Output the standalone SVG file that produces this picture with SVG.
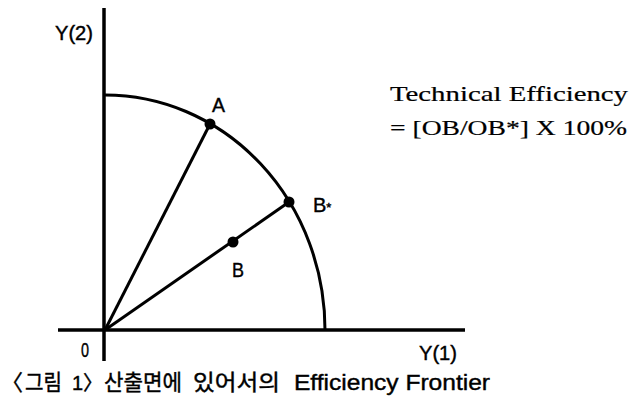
<svg xmlns="http://www.w3.org/2000/svg" width="633" height="399" viewBox="0 0 633 399">
<style>
.ax{stroke:#000;stroke-width:3.5;fill:none}
.ln{stroke:#000;stroke-width:3;fill:none}
.lbl{font-family:"Liberation Sans",Arial,sans-serif;font-size:20px;fill:#000;stroke:#000;stroke-width:0.4}
.ser{font-family:"Liberation Serif","Times New Roman",serif;font-size:21px;fill:#000;stroke:#000;stroke-width:0.2}
.cap{font-family:"Liberation Sans","Noto Sans CJK KR",sans-serif;font-size:22px;fill:#000;stroke:#000;stroke-width:0.4}
</style>
<g id="axes">
<line class="ax" x1="104" y1="8" x2="104" y2="361"/>
<line class="ax" x1="58" y1="330" x2="465" y2="330"/>
</g>
<g id="frontier">
<path class="ln" d="M105,95 A220,235 0 0 1 325,330"/>
</g>
<g id="connectors">
<line class="ln" x1="105" y1="330" x2="210" y2="124"/>
<line class="ln" x1="105" y1="330" x2="289" y2="202"/>
</g>
<g id="nodeO"><text class="lbl" x="81" y="357" font-size="18" textLength="8" lengthAdjust="spacingAndGlyphs">0</text></g>
<g id="nodeA"><circle cx="210" cy="124" r="5.5"/><text class="lbl" x="212" y="112" font-size="19" textLength="13" lengthAdjust="spacingAndGlyphs">A</text></g>
<g id="nodeBstar"><circle cx="289" cy="202" r="5.5"/><text class="lbl" x="313" y="212">B<tspan font-size="13">*</tspan></text></g>
<g id="nodeB"><circle cx="233" cy="242" r="5.5"/><text class="lbl" x="232" y="277" textLength="12" lengthAdjust="spacingAndGlyphs">B</text></g>
<g id="labels">
<text class="lbl" x="55" y="40" font-size="17" textLength="38" lengthAdjust="spacingAndGlyphs">Y(2)</text>
<text class="lbl" x="419" y="360" font-size="17" textLength="38" lengthAdjust="spacingAndGlyphs">Y(1)</text>
<text class="ser" x="390" y="101" textLength="238" lengthAdjust="spacingAndGlyphs">Technical Efficiency</text>
<text class="ser" x="390" y="135" textLength="237" lengthAdjust="spacingAndGlyphs">= [OB/OB*] X 100%</text>
<text class="cap" y="390"><tspan x="1">〈</tspan><tspan x="25" textLength="37" lengthAdjust="spacingAndGlyphs">그림</tspan><tspan x="72" font-size="20">1〉</tspan><tspan x="104" textLength="78" lengthAdjust="spacingAndGlyphs">산출면에</tspan><tspan x="193" textLength="87" lengthAdjust="spacingAndGlyphs">있어서의</tspan><tspan x="294" textLength="196" lengthAdjust="spacingAndGlyphs">Efficiency Frontier</tspan></text>
</g>
</svg>
